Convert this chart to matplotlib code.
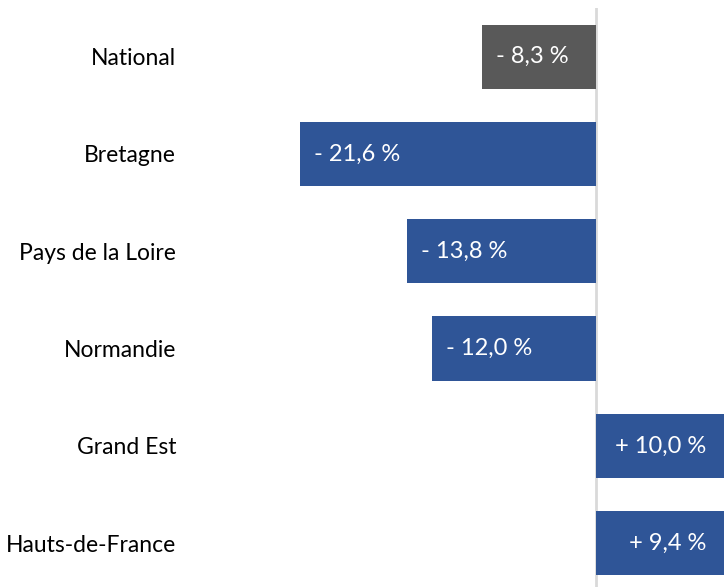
import matplotlib
matplotlib.use("Agg")
import matplotlib.pyplot as plt

regions = ["National", "Bretagne", "Pays de la Loire", "Normandie", "Grand Est", "Hauts-de-France"]
values = [-8.3, -21.6, -13.8, -12.0, 10.0, 9.4]
colors = ["#595959", "#2f5597", "#2f5597", "#2f5597", "#2f5597", "#2f5597"]

plt.rcParams['font.family'] = ['Lato', 'DejaVu Sans']

fig = plt.figure(figsize=(7.24, 5.87), dpi=100)
ax = fig.add_axes([190 / 724, 0, 1 - 190 / 724, 1 - 8 / 587])

xmin, xmax = -29.64, 9.34
ypos = list(range(len(regions)))
ax.barh(ypos, values, height=0.66, color=colors, zorder=2)
ax.axvline(0, color="#d9d9d9", lw=2, zorder=1)

for y, v in zip(ypos, values):
    txt = ("- " if v < 0 else "+ ") + f"{abs(v):.1f}".replace(".", ",") + " %"
    if v < 0:
        ax.annotate(txt, (v, y), xytext=(10, 0), textcoords="offset points",
                    ha="left", va="center", color="white", fontsize=17)
    else:
        ax.annotate(txt, (min(v, xmax), y), xytext=(-13, 0), textcoords="offset points",
                    ha="right", va="center", color="white", fontsize=17)

ax.set_xlim(xmin, xmax)
ax.set_ylim(5.45, -0.5)
ax.set_yticks(ypos)
ax.set_yticklabels(regions, fontsize=16.5)
ax.tick_params(axis="y", length=0, pad=10)
ax.set_xticks([])
for s in ax.spines.values():
    s.set_visible(False)

fig.savefig("out.png", dpi=100)
